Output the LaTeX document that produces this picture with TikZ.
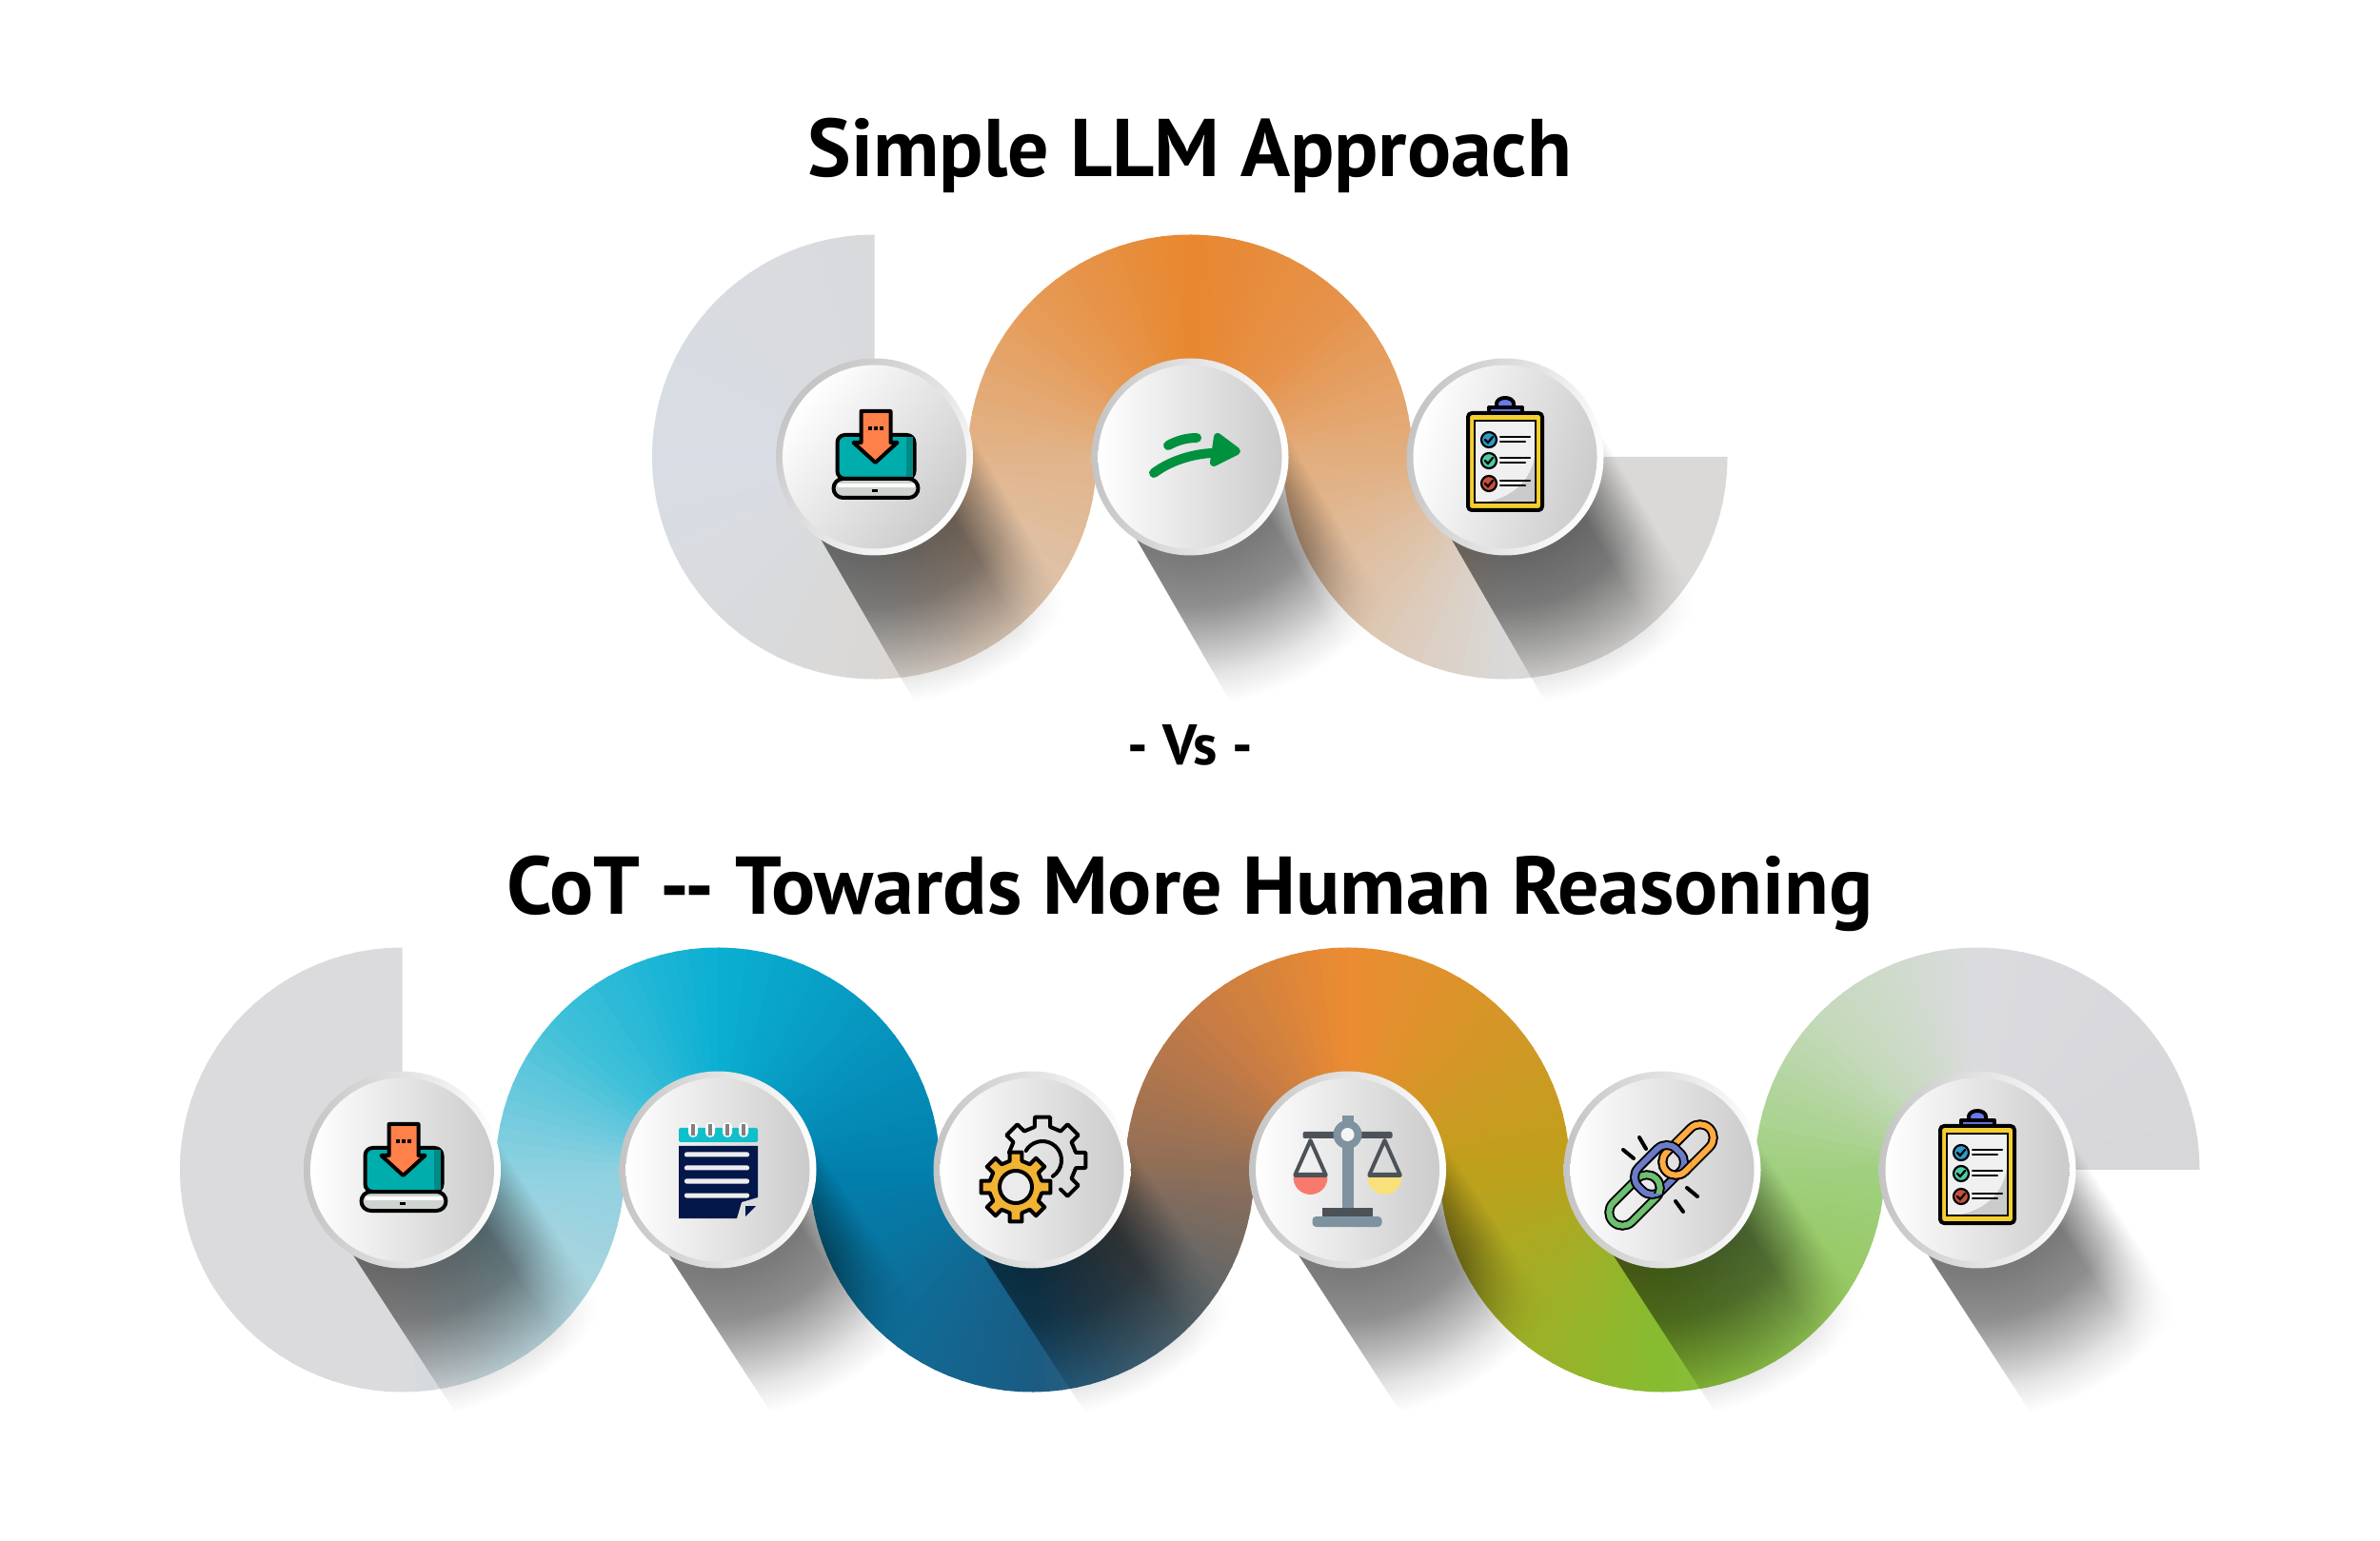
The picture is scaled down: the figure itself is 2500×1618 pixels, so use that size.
\documentclass[tikz,border=0pt]{standalone}
\usepackage{fontspec}
\setmainfont{PT Sans}
\usetikzlibrary{fadings}

% 颜色
\definecolor{ringgray}{HTML}{C4C4C4}
\definecolor{discgray}{HTML}{CBCBCB}
\definecolor{tealc}{HTML}{00ADAD}
\definecolor{tealdark}{HTML}{008A85}
\definecolor{arroworange}{HTML}{FF8048}
\definecolor{basegray}{HTML}{D0D4D0}
\definecolor{boardyellow}{HTML}{F5CF30}
\definecolor{clipblue}{HTML}{6C78E8}
\definecolor{markblue}{HTML}{2E9BC8}
\definecolor{markgreen}{HTML}{4FC9A6}
\definecolor{markred}{HTML}{C8503F}
\definecolor{pathgreen}{HTML}{00913F}
\definecolor{padteal}{HTML}{10BFCC}
\definecolor{padnavy}{HTML}{04174A}
\definecolor{gearyellow}{HTML}{F2B233}
\definecolor{scalepole}{HTML}{7E92A0}
\definecolor{scaledark}{HTML}{4D5259}
\definecolor{panred}{HTML}{F97A6C}
\definecolor{panyellow}{HTML}{FAE07A}
\definecolor{linkorange}{HTML}{FFAB40}
\definecolor{linkblue}{HTML}{6A7CC8}
\definecolor{linkgreen}{HTML}{6CC070}

% 带子取色点
\definecolor{sa}{HTML}{D9DADC}
\definecolor{sb}{HTML}{D8DDE5}
\definecolor{sc}{HTML}{DAD8D6}
\definecolor{sd}{HTML}{E2B48A}
\definecolor{sx}{HTML}{E69A55}
\definecolor{se}{HTML}{E8872F}
\definecolor{sy}{HTML}{E6934B}
\definecolor{sf}{HTML}{E2AE7E}
\definecolor{sg}{HTML}{DAD9D8}
\definecolor{ca}{HTML}{DBDBDD}
\definecolor{cb}{HTML}{8ED1E0}
\definecolor{cx}{HTML}{3CBFD9}
\definecolor{cc}{HTML}{0BAFD2}
\definecolor{cd}{HTML}{027FAD}
\definecolor{ce}{HTML}{1A5C84}
\definecolor{cf}{HTML}{8F6E58}
\definecolor{cy}{HTML}{C47B45}
\definecolor{cg}{HTML}{EC8C32}
\definecolor{ch}{HTML}{BEA01C}
\definecolor{ci}{HTML}{86BC30}
\definecolor{cj}{HTML}{A0D080}
\definecolor{cz}{HTML}{C5D9BB}
\definecolor{ck}{HTML}{DBDBDF}
\definecolor{cl}{HTML}{D7D7DA}

% 长投影：沿径向变浅，横向向右淡出
\pgfdeclareradialshading{longshade}{\pgfpointorigin}{%
  color(0bp)=(white!48!black); color(10.4bp)=(white!48!black); color(15bp)=(white!56!black);
  color(19bp)=(white!75!black); color(22bp)=(white!90!black);
  color(25bp)=(white); color(50bp)=(white)}
\pgfdeclarehorizontalshading{crossshade}{100bp}{%
  color(0bp)=(white); color(53.8bp)=(white); color(57bp)=(white!50!black);
  color(59.6bp)=(black); color(100bp)=(black)}
\pgfdeclarefading{crossfade}{\pgfuseshading{crossshade}}

\tikzset{
  ringnode/.style={circle, minimum size=103.5pt, inner sep=0pt, left color=ringgray, right color=white, shading angle=#1},
  discnode/.style={circle, minimum size=96.5pt, inner sep=0pt, left color=white, right color=discgray, shading angle=#1},
  iconline/.style={draw=black, line width=2pt, line join=round, line cap=round},
  thinline/.style={draw=black, line width=1.1pt, line cap=round},
  titletext/.style={font=\fontsize{43}{52}\selectfont\bfseries},
  vstext/.style={font=\fontsize{30}{34}\selectfont\bfseries}
}

% 一段圆环，颜色沿弧渐变
\newcommand{\ribbonquad}[5]{%
  \pgfmathtruncatemacro{\nsteps}{abs(#3-#2)/3.75}
  \foreach \i in {1,...,\nsteps}{
    \pgfmathsetmacro{\angfrom}{#2+(#3-#2)*(\i-1)/\nsteps}
    \pgfmathsetmacro{\angto}{#2+(#3-#2)*\i/\nsteps+0.7*(#3-#2)/abs(#3-#2)}
    \pgfmathsetmacro{\mixval}{100*(\i-0.5)/\nsteps}
    \fill[shift={(#1)}, fill=#5!\mixval!#4] (\angfrom:233.5) arc (\angfrom:\angto:233.5)
      -- (\angto:97.5) arc (\angto:\angfrom:97.5) -- cycle;
  }}

% 圆盘的长投影
\newcommand{\longshadow}[2]{%
  \begin{scope}
    \clip[shift={(#1)}, rotate=#2] (0,-92) rectangle (300,100);
    \shade[shading=longshade, blend mode=multiply, path fading=crossfade, fading transform={rotate=90+#2}]
      ([shift={(-260,-260)}]#1) rectangle ([shift={(260,260)}]#1);
  \end{scope}
}

% 图标
\newcommand{\iconlaptop}{%
  \filldraw[iconline, fill=tealc, rounded corners=4pt] (-39,-23) -- (-39,23) -- (42,23) -- (42,-23) -- cycle;
  \fill[tealdark] (33,21) -- (40,21) -- (40,-21) -- (33,-21) -- cycle;
  \filldraw[iconline, fill=basegray, rounded corners=5pt] (-43,-23) rectangle (46,-43);
  \fill[white] (-39,-28) rectangle (42,-32);
  \fill[black] (-3,-34) rectangle (3,-37);
  \filldraw[iconline, fill=arroworange] (-14,48) -- (17,48) -- (17,15) -- (24,15) -- (1,-6) -- (-22,15) -- (-14,15) -- cycle;
  \foreach \dx in {-5,1,7}{\fill[black] (\dx-2,28) rectangle (\dx+2,32);}
}
\newcommand{\iconboard}{%
  \filldraw[iconline, fill=clipblue] (-9,46) -- (-9,56) arc (180:0:9 and 6) -- (9,46) -- cycle;
  \filldraw[iconline, fill=clipblue] (-17,44) rectangle (18,52);
  \filldraw[iconline, fill=boardyellow, rounded corners=2pt] (-39,46) rectangle (39,-56);
  \filldraw[thinline, fill=white!94!black] (-32,38) rectangle (32,-48);
  \fill[discgray] (31,1) .. controls (27,-25) and (8,-42) .. (-18,-47) -- (31,-47) -- cycle;
  \foreach \ly/\mk in {18/markblue,-4/markgreen,-28/markred}{
    \filldraw[thinline, fill=\mk] (-17,\ly) circle (8);
    \draw[thinline] (-21,\ly) -- (-18,\ly-3) -- (-13,\ly+3);
    \draw[thinline] (-5,\ly+3) -- (26,\ly+3);
    \draw[thinline] (-5,\ly-2) -- (21,\ly-2);
  }
}
\newcommand{\iconpath}{%
  \draw[pathgreen, line width=5pt, line cap=round] (-38,-17) .. controls (-18,-2) and (10,5) .. (32,4);
  \draw[pathgreen, line width=5pt, line cap=round] (-23,12) .. controls (-14,17) and (-4,20) .. (7,20);
  \filldraw[pathgreen, line width=4pt, line join=round] (29,21) -- (49,6) -- (25,-6) -- cycle;
}
\newcommand{\iconpad}{%
  \fill[padteal, rounded corners=1pt] (-41,29) rectangle (42,44);
  \foreach \rx in {-26,-8,10,27}{
    \fill[white, rounded corners=2.5pt] (\rx-5,34) rectangle (\rx+5,50);
    \fill[gray] (\rx-2,36) rectangle (\rx+2,48);
  }
  \fill[padnavy] (-41,25) -- (42,25) -- (42,-29) -- (25,-34) -- (20,-51) -- (-41,-51) -- cycle;
  \fill[padnavy] (29,-38) -- (40,-38) -- (29,-49) -- cycle;
  \foreach \ly in {16,2,-12,-27}{
    \fill[white!93!black, rounded corners=1pt] (-35,\ly-2.5) rectangle (33,\ly+2.5);
  }
}
\newcommand{\icongears}{%
  \draw[iconline, shift={(11,10)}] (-58:36) foreach \a in {-45,0,45,90,135}{
    -- (\a-10:46) -- (\a+10:46) -- (\a+13:36) -- (\a+32:36) };
  \draw[iconline, shift={(11,10)}] (150:20) arc (150:-57:20);
  \filldraw[iconline, fill=gearyellow, shift={(-17,-18)}] (-10:37) foreach \a in {0,45,...,315}{
    -- (\a-10:37) -- (\a+10:37) -- (\a+13:28) -- (\a+32:28) } -- cycle;
  \filldraw[iconline, fill=white!92!black, shift={(-17,-18)}] (0,0) circle (17);
}
\newcommand{\iconscale}{%
  \foreach \px/\pc in {-39/panred,39/panyellow}{
    \draw[scaledark, line width=2pt, line join=round] (\px-16,-5) -- (\px,31) -- (\px+16,-5);
    \fill[\pc] (\px-18,-8) arc (180:360:18) -- cycle;
    \fill[scaledark, rounded corners=1pt] (\px-18,-8) rectangle (\px+18,-3);
  }
  \fill[scaledark, rounded corners=1pt] (-47,33) rectangle (47,40);
  \fill[scalepole] (-6,-41) rectangle (6,37);
  \fill[scalepole] (-6,50) rectangle (6,57);
  \fill[scalepole] (0,37) circle (15);
  \fill[white!96!black] (0,37) circle (7);
  \fill[scaledark] (-27,-49) rectangle (26,-40);
  \fill[scalepole, rounded corners=2pt] (-37,-60) rectangle (36,-49);
}
% 链环：中心、半长、半宽、颜色
\newcommand{\chainlink}[5]{%
  \draw[black, line width=5pt, rounded corners=7pt, shift={(#1,#2)}, rotate=45] (-#3,-#4) rectangle (#3,#4);
  \draw[#5, line width=3pt, rounded corners=7pt, shift={(#1,#2)}, rotate=45] (-#3,-#4) rectangle (#3,#4);
}
\newcommand{\iconchain}{%
  \chainlink{27}{21}{32}{14}{linkorange}
  \chainlink{-29}{-32}{32}{14}{linkgreen}
  \chainlink{-3}{0}{28}{17}{linkblue}
  \begin{scope}
    \clip (-8,-14) rectangle (30,10);
    \chainlink{27}{21}{32}{14}{linkorange}
  \end{scope}
  \begin{scope}
    \clip (-14,-24) rectangle (8,6);
    \chainlink{-29}{-32}{32}{14}{linkgreen}
  \end{scope}
  \foreach \ax/\ay/\bx/\by in {-24/34/-17/22,-41/21/-30/12,26/-19/37/-28,14/-33/22/-44}{
    \draw[iconline] (\ax,\ay) -- (\bx,\by);
  }
}

\begin{document}
\begin{tikzpicture}[x=0.5pt, y=0.5pt]
  \useasboundingbox (0,0) rectangle (2500,1618);

  % 圆盘中心
  \foreach \n/\px in {SA/918.5,SB/1250,SC/1581}{\coordinate (pt\n) at (\px,1138);}
  \foreach \n/\px in {CA/422.5,CB/754,CC/1084,CD/1415.5,CE/1746,CF/2077}{\coordinate (pt\n) at (\px,389);}

  % 标题
  \node[titletext] (simpletitle) at (1250,1455) {Simple LLM Approach};
  \node[vstext] (vslabel) at (1250,835) {- Vs -};
  \node[titletext] (cottitle) at (1250,679) {CoT -{}- Towards More Human Reasoning};

  % 上排带子
  \ribbonquad{ptSA}{90}{180}{sa}{sb}
  \ribbonquad{ptSA}{180}{270}{sb}{sc}
  \ribbonquad{ptSA}{270}{360}{sc}{sd}
  \ribbonquad{ptSB}{180}{135}{sd}{sx}
  \ribbonquad{ptSB}{135}{90}{sx}{se}
  \ribbonquad{ptSB}{90}{45}{se}{sy}
  \ribbonquad{ptSB}{45}{0}{sy}{sf}
  \ribbonquad{ptSC}{180}{270}{sf}{sg}
  \ribbonquad{ptSC}{270}{359.3}{sg}{sg}

  % 下排带子
  \ribbonquad{ptCA}{90}{270}{ca}{ca}
  \ribbonquad{ptCA}{270}{360}{ca}{cb}
  \ribbonquad{ptCB}{180}{135}{cb}{cx}
  \ribbonquad{ptCB}{135}{90}{cx}{cc}
  \ribbonquad{ptCB}{90}{0}{cc}{cd}
  \ribbonquad{ptCC}{180}{270}{cd}{ce}
  \ribbonquad{ptCC}{270}{360}{ce}{cf}
  \ribbonquad{ptCD}{180}{135}{cf}{cy}
  \ribbonquad{ptCD}{135}{90}{cy}{cg}
  \ribbonquad{ptCD}{90}{0}{cg}{ch}
  \ribbonquad{ptCE}{180}{270}{ch}{ci}
  \ribbonquad{ptCE}{270}{360}{ci}{cj}
  \ribbonquad{ptCF}{180}{135}{cj}{cz}
  \ribbonquad{ptCF}{135}{90}{cz}{ck}
  \ribbonquad{ptCF}{90}{0.7}{ck}{cl}

  % 投影
  \foreach \n in {SA,SB,SC}{\longshadow{pt\n}{-60}}
  \foreach \n in {CA,CB,CC,CD,CE,CF}{\longshadow{pt\n}{-57}}

  % 圆盘
  \foreach \n/\sa in {SA/50,SB/90,SC/75,CA/90,CB/90,CC/90,CD/90,CE/90,CF/90}{
    \node[ringnode=\sa] (hub\n) at (pt\n) {};
    \node[discnode=\sa] (disc\n) at (pt\n) {};
  }

  % 图标
  \begin{scope}[shift={(ptSA)}]\iconlaptop\end{scope}
  \begin{scope}[shift={(ptSB)}]\iconpath\end{scope}
  \begin{scope}[shift={(ptSC)}]\iconboard\end{scope}
  \begin{scope}[shift={(ptCA)}]\iconlaptop\end{scope}
  \begin{scope}[shift={(ptCB)}]\iconpad\end{scope}
  \begin{scope}[shift={(ptCC)}]\icongears\end{scope}
  \begin{scope}[shift={(ptCD)}]\iconscale\end{scope}
  \begin{scope}[shift={(ptCE)}]\iconchain\end{scope}
  \begin{scope}[shift={(ptCF)}]\iconboard\end{scope}
\end{tikzpicture}
\end{document}
